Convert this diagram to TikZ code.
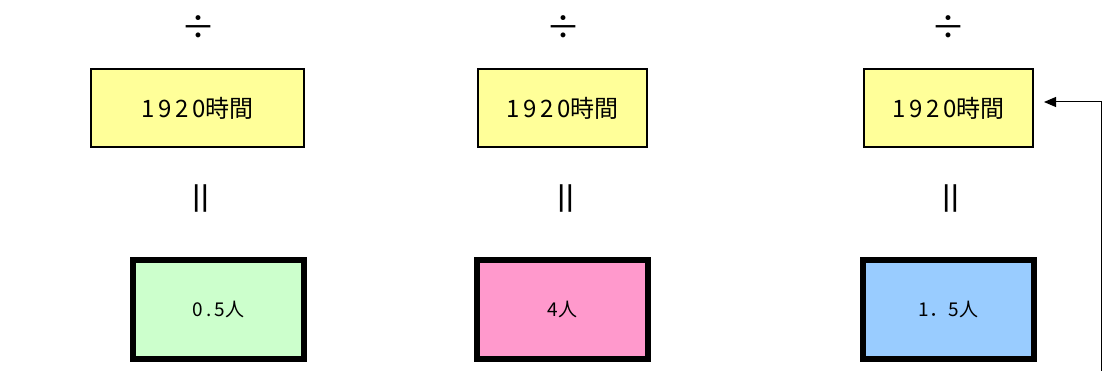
\documentclass[tikz,border=0pt]{standalone}
\usepackage{fontspec}
\setmainfont{Noto Sans CJK JP}
\newfontfamily\digs[LetterSpace=16]{Noto Sans CJK JP}
\usetikzlibrary{arrows.meta}
\definecolor{yel}{HTML}{FFFF99}
\definecolor{grn}{HTML}{CCFFCC}
\definecolor{pnk}{HTML}{FF99CC}
\definecolor{blu}{HTML}{99CCFF}
\tikzset{
  hourbox/.style={draw=black, line width=2pt, fill=yel, minimum width=169pt, minimum height=78pt, inner sep=0pt, font=\fontsize{24}{26}\selectfont},
  personbox/.style={draw=black, line width=6pt, minimum width=171pt, minimum height=99pt, inner sep=0pt, font=\fontsize{19}{22}\selectfont},
  divsign/.style={inner sep=0pt, font=\fontsize{34}{36}\selectfont},
  eqsign/.style={inner sep=0pt, rotate=90, font=\fontsize{38}{40}\selectfont},
}
\begin{document}
\begin{tikzpicture}[x=1pt,y=-1pt]
\useasboundingbox (0,0) rectangle (1105,371);
\fill[white] (0,0) rectangle (1105,371);
% division signs
\node[divsign] (d1) at (198,28) {÷};
\node[divsign] (d2) at (563,28) {÷};
\node[divsign] (d3) at (948.5,28) {÷};
% hour boxes
\node[hourbox, minimum width=213pt] (h1) at (197.5,108) {{\digs 1920}時間};
\node[hourbox] (h2) at (562.5,108) {{\digs 1920}時間};
\node[hourbox] (h3) at (948.5,108) {{\digs 1920}時間};
% equals
\node[eqsign] (e1) at (205,199) {＝};
\node[eqsign] (e2) at (570,199) {＝};
\node[eqsign] (e3) at (955.5,199) {＝};
% person boxes
\node[personbox, fill=grn] (p1) at (218.5,309.5) {{\digs 0.5}人};
\node[personbox, fill=pnk] (p2) at (562.5,309.5) {{\digs 4}人};
\node[personbox, fill=blu] (p3) at (948.5,309.5) {{\digs 1}．{\digs 5}人};
% arrow
\coordinate (abot) at (1101,371);
\coordinate (atip) at (1044,102);
\draw[line width=1pt, -{Triangle[length=12pt,width=10pt]}] (abot) |- (atip);
\end{tikzpicture}
\end{document}
